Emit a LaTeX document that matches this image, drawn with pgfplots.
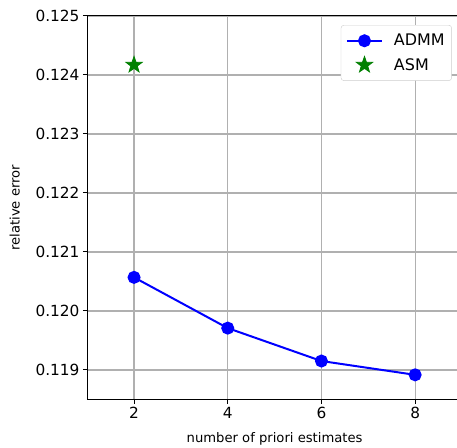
\documentclass[border=0pt]{standalone}
\usepackage{fontspec}
\setmainfont{DejaVu Sans}
\usepackage{pgfplots}
\pgfplotsset{compat=1.18}
\pgfdeclareplotmark{fstar}{%
  \pgfpathmoveto{\pgfpointpolar{90}{\pgfplotmarksize}}%
  \pgfpathlineto{\pgfpointpolar{126}{0.4\pgfplotmarksize}}%
  \pgfpathlineto{\pgfpointpolar{162}{\pgfplotmarksize}}%
  \pgfpathlineto{\pgfpointpolar{198}{0.4\pgfplotmarksize}}%
  \pgfpathlineto{\pgfpointpolar{234}{\pgfplotmarksize}}%
  \pgfpathlineto{\pgfpointpolar{270}{0.4\pgfplotmarksize}}%
  \pgfpathlineto{\pgfpointpolar{306}{\pgfplotmarksize}}%
  \pgfpathlineto{\pgfpointpolar{342}{0.4\pgfplotmarksize}}%
  \pgfpathlineto{\pgfpointpolar{18}{\pgfplotmarksize}}%
  \pgfpathlineto{\pgfpointpolar{54}{0.4\pgfplotmarksize}}%
  \pgfpathclose
  \pgfusepathqfillstroke}
\definecolor{mplgreen}{RGB}{0,128,0}
\begin{document}
\begin{tikzpicture}
\begin{axis}[
  scale only axis,
  width=374.8bp, height=383.5bp,
  at={(0,0)}, anchor=south west,
  xmin=1, xmax=9, ymin=0.1185, ymax=0.125,
  xtick={2,4,6,8},
  ytick={0.119,0.120,0.121,0.122,0.123,0.124,0.125},
  scaled y ticks=false,
  yticklabel style={/pgf/number format/.cd, fixed, fixed zerofill, precision=3},
  /pgf/number format/assume math mode=true,
  tick label style={font=\fontsize{15.4}{18}\selectfont},
  label style={font=\fontsize{13.2}{16}\selectfont},
  xlabel={number of priori estimates},
  ylabel={relative error},
  xlabel style={yshift=-7bp},
  ylabel style={yshift=9bp},
  tick pos=left,
  tick align=outside,
  major tick length=4.2bp,
  tick style={black, line width=1bp},
  grid=major,
  major grid style={color=black!31, line width=1.2bp},
  axis line style={black, line width=1bp},
  legend style={at={(rel axis cs:0.973,0.9765)}, anchor=north east,
    font=\fontsize{16}{19}\selectfont, rounded corners=3bp,
    draw=black!20, fill=white, inner xsep=5bp, inner ysep=7bp,
    row sep=7bp,
    nodes={inner sep=2bp}},
  legend cell align=left,
  legend image code/.code={\draw[mark repeat=2,mark phase=2] plot coordinates {(0bp,0bp) (17.5bp,0bp) (35bp,0bp)};\path (44bp,0bp);},
]
\addplot[blue, line width=2bp, mark=*, mark size=5.5bp, mark options={solid, fill=blue, draw=blue}]
  coordinates {(2,0.12057) (4,0.11971) (6,0.119152) (8,0.118918)};
\addlegendentry{ADMM}
\addplot[mplgreen, only marks, mark=fstar, mark size=8.5bp, mark options={fill=mplgreen, draw=mplgreen, line width=0.8bp}]
  coordinates {(2,0.12417)};
\addlegendentry{ASM}
\end{axis}
\pgfresetboundingbox
\path[use as bounding box] (-87.2bp,-48.5bp) rectangle (369.8bp,399.5bp);
\end{tikzpicture}
\end{document}
